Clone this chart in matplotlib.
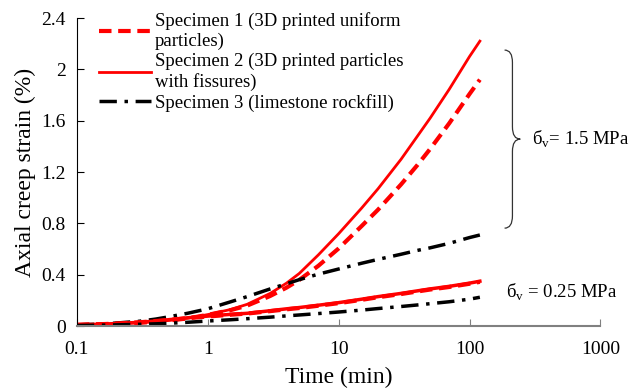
import numpy as np
import matplotlib
matplotlib.use('Agg')
import matplotlib.pyplot as plt
from matplotlib.path import Path
from matplotlib.patches import PathPatch

plt.rcParams['font.family'] = ['Liberation Serif', 'DejaVu Serif']

# Dane
time_min = [0.1, 0.15, 0.2, 0.3, 0.4, 0.5, 0.7, 1, 1.5, 2, 3, 4, 5, 7,
            10, 15, 20, 30, 40, 50, 70, 100, 120]

# sigma_v = 1.5 MPa
spec1_high = [0.01, 0.014, 0.018, 0.026, 0.034, 0.043, 0.06, 0.088, 0.125, 0.16, 0.235, 0.30, 0.36, 0.47,
              0.605, 0.78, 0.907, 1.104, 1.255, 1.38, 1.58, 1.808, 1.92]
spec2_high = [0.01, 0.014, 0.018, 0.026, 0.035, 0.044, 0.062, 0.09, 0.13, 0.17, 0.255, 0.335, 0.41, 0.555,
              0.72, 0.92, 1.07, 1.30, 1.48, 1.62, 1.845, 2.10, 2.22]
spec3_high = [0.01, 0.016, 0.024, 0.038, 0.055, 0.072, 0.10, 0.135, 0.19, 0.23, 0.29, 0.33, 0.362, 0.405,
              0.445, 0.49, 0.52, 0.56, 0.59, 0.61, 0.645, 0.69, 0.71]

# sigma_v = 0.25 MPa
spec1_low = [0.01, 0.015, 0.02, 0.03, 0.04, 0.048, 0.062, 0.075, 0.089, 0.098, 0.117, 0.131, 0.141, 0.159,
             0.179, 0.205, 0.225, 0.25, 0.27, 0.285, 0.305, 0.33, 0.345]
spec2_low = [0.01, 0.015, 0.02, 0.03, 0.04, 0.05, 0.065, 0.078, 0.092, 0.10, 0.12, 0.135, 0.145, 0.163,
             0.183, 0.21, 0.23, 0.255, 0.275, 0.29, 0.31, 0.335, 0.35]
spec3_low = [0.005, 0.007, 0.01, 0.014, 0.018, 0.022, 0.03, 0.04, 0.05, 0.058, 0.07, 0.08, 0.087, 0.098,
             0.11, 0.125, 0.137, 0.153, 0.165, 0.175, 0.19, 0.21, 0.225]

labels = ['Specimen 1 (3D printed uniform\nparticles)',
          'Specimen 2 (3D printed particles\nwith fissures)',
          'Specimen 3 (limestone rockfill)']

fig = plt.figure(figsize=(6.3, 3.92), dpi=100)
ax = fig.add_axes([0.122, 0.168, 0.831, 0.786])

dd = (5, 2.2, 1, 2.2)
ax.plot(time_min, spec1_high, color='red', lw=3, dashes=(3, 1.6), label=labels[0])
ax.plot(time_min, spec2_high, color='red', lw=2, label=labels[1])
ax.plot(time_min, spec3_high, color='black', lw=2.5, dashes=dd, label=labels[2])
ax.plot(time_min, spec1_low, color='red', lw=3, dashes=(3, 1.6))
ax.plot(time_min, spec2_low, color='red', lw=2.5)
ax.plot(time_min, spec3_low, color='black', lw=2.5, dashes=dd)

ax.set_xscale('log')
ax.set_xlim(0.1, 1000)
ax.set_ylim(0, 2.4)
ax.set_yticks(np.arange(0, 2.41, 0.4))
ax.set_yticklabels(['0', '0.4', '0.8', '1.2', '1.6', '2', '2.4'])
ax.set_xticks([0.1, 1, 10, 100, 1000])
ax.set_xticklabels(['0.1', '1', '10', '100', '1000'])
ax.minorticks_off()
ax.tick_params(axis='both', direction='in', labelsize=14, length=5)
ax.tick_params(axis='x', pad=11, color='#808080')
ax.tick_params(axis='y', pad=8)
ax.spines['top'].set_visible(False)
ax.spines['right'].set_visible(False)
ax.spines['bottom'].set_color('#808080')
ax.spines['bottom'].set_linewidth(1.5)
ax.set_xlabel('Time (min)', fontsize=17, labelpad=6)
ax.set_ylabel('Axial creep strain (%)', fontsize=17, labelpad=4)

ax.legend(loc='upper left', bbox_to_anchor=(0.02, 1.055), frameon=False, fontsize=13.5,
          handlelength=2.8, handletextpad=0.2, labelspacing=0.15, borderaxespad=0.2)

# klamra dla 1.5 MPa
x0, w = 0.817, 0.03
yt, yb = 0.896, 0.318
ym = (yt + yb) / 2
xm = x0 + w / 2
verts = [(x0, yt), (xm, yt), (xm, yt - 0.04), (xm, ym + 0.04),
         (xm, ym), (x0 + w, ym), (x0 + w, ym),
         (xm, ym), (xm, ym - 0.04), (xm, yb + 0.04),
         (xm, yb), (x0, yb)]
codes = [Path.MOVETO, Path.CURVE3, Path.CURVE3, Path.LINETO,
         Path.CURVE3, Path.CURVE3, Path.MOVETO,
         Path.CURVE3, Path.CURVE3, Path.LINETO,
         Path.CURVE3, Path.CURVE3]
ax.add_patch(PathPatch(Path(verts, codes), transform=ax.transAxes, fill=False,
                       lw=0.9, color='#333333', clip_on=False))

ax.text(0.87, ym, 'б$_\\mathregular{v}$= 1.5 MPa', transform=ax.transAxes,
        fontsize=13.5, va='center', ha='left')
ax.text(0.82, 0.11, 'б$_\\mathregular{v}$ = 0.25 MPa', transform=ax.transAxes,
        fontsize=13.5, va='center', ha='left')

fig.savefig('out.png', dpi=100)
